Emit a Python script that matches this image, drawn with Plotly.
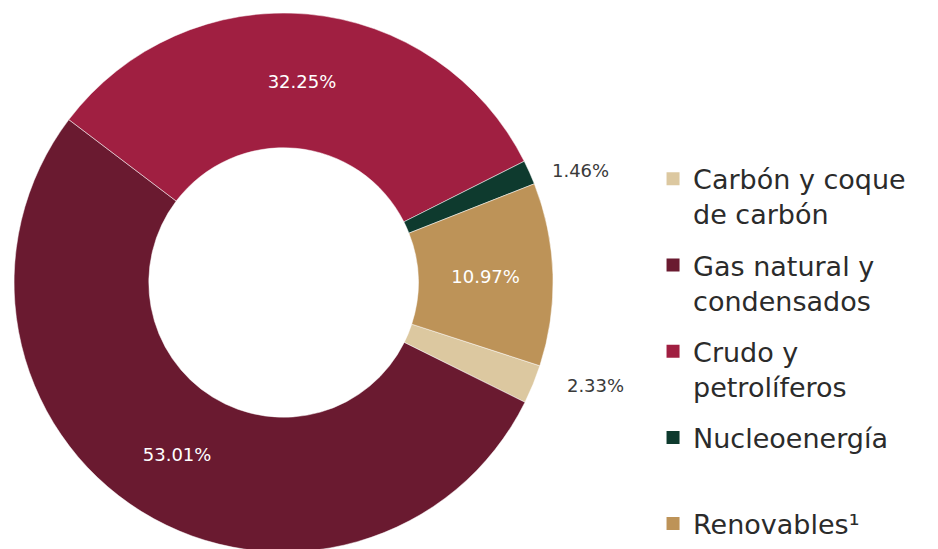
import plotly.graph_objects as go

labels = ["Carbón y coque<br>de carbón", "Gas natural y<br>condensados", "Crudo y<br>petrolíferos",
          "Nucleoenergía<br> ", "Renovables¹"]
values = [2.33, 53.01, 32.25, 1.46, 10.97]
colors = ["#dcc8a0", "#6a1a30", "#a01f41", "#0e3a2e", "#bd9358"]
text_pos = ["outside", "inside", "inside", "outside", "inside"]
text_colors = ["#3a3a3a", "#ffffff", "#ffffff", "#3a3a3a", "#ffffff"]
text_tpl = ["\u00a0\u00a0\u00a0\u00a0\u00a0%{value:.2f}%", "%{value:.2f}%", "%{value:.2f}%",
            "\u00a0\u00a0\u00a0%{value:.2f}%", "%{value:.2f}%"]

W, H = 938, 549

fig = go.Figure()
fig.add_trace(go.Pie(
    labels=labels, values=values, sort=False, direction="clockwise", rotation=108,
    hole=0.5, marker=dict(colors=colors, line=dict(color="#ffffff", width=0.5)),
    textposition=text_pos, texttemplate=text_tpl,
    textfont=dict(family="DejaVu Sans", size=18, color=text_colors),
    insidetextorientation="horizontal",
    domain=dict(x=[0, 544/W], y=[0, 1]), showlegend=False,
))
for lab, col in zip(labels, colors):
    fig.add_trace(go.Scatter(
        x=[None], y=[None], mode="markers", name=lab, legendgroup=lab,
        marker=dict(symbol="square", size=13, color=col), showlegend=True,
    ))

fig.update_layout(
    width=W, height=H, margin=dict(l=0, r=0, t=0, b=0),
    paper_bgcolor="white", plot_bgcolor="white",
    xaxis=dict(visible=False), yaxis=dict(visible=False),
    legend=dict(x=0.686, y=0.737, xanchor="left", yanchor="top", valign="top",
                tracegroupgap=13, font=dict(family="DejaVu Sans", size=27, color="#2b2b2b"),
                bgcolor="rgba(0,0,0,0)"),
)
fig.write_html("out.html")
